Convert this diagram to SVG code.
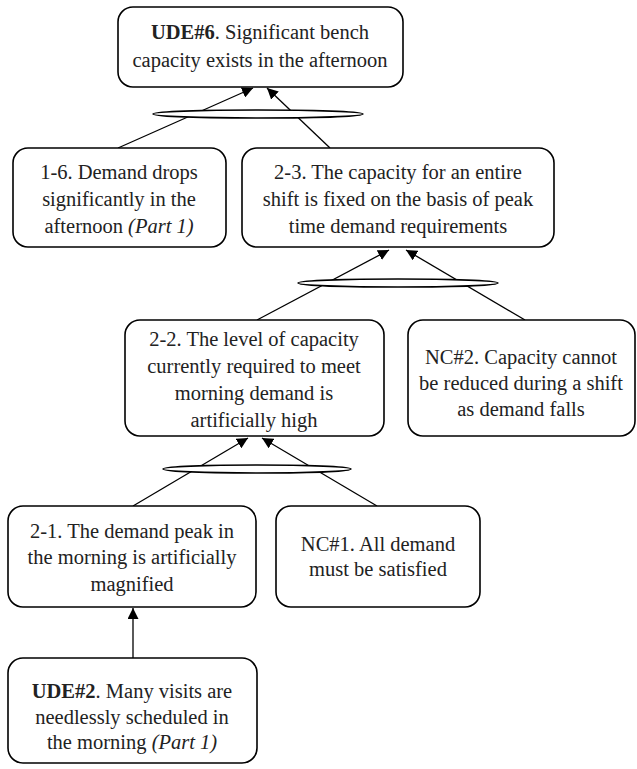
<svg xmlns="http://www.w3.org/2000/svg" width="637" height="769" viewBox="0 0 637 769">
  <defs>
    <style>
      .box { fill: #fff; stroke: #000; stroke-width: 1.6; }
      .lbl { font-family: "Liberation Serif", "DejaVu Serif", serif; font-size: 20.5px; fill: #222; text-anchor: middle; }
      .b { font-weight: bold; }
      .i { font-style: italic; }
      .edge { stroke: #000; stroke-width: 1.3; fill: none; }
      .and { fill: #fff; stroke: #000; stroke-width: 1.6; }
    </style>
    <marker id="tip" markerUnits="userSpaceOnUse" markerWidth="12" markerHeight="11" refX="11" refY="5.5" orient="auto">
      <path d="M0,0 L11,5.5 L0,11 Z" fill="#000"/>
    </marker>
  </defs>

  <!-- connectors -->
  <g id="connectors">
    <line class="edge" x1="118" y1="148" x2="253" y2="88" marker-end="url(#tip)"/>
    <line class="edge" x1="330" y1="148" x2="267" y2="88" marker-end="url(#tip)"/>
    <ellipse class="and" cx="258" cy="114" rx="105" ry="4"/>

    <line class="edge" x1="257" y1="320" x2="389" y2="250" marker-end="url(#tip)"/>
    <line class="edge" x1="525" y1="320" x2="406" y2="250" marker-end="url(#tip)"/>
    <ellipse class="and" cx="398" cy="283" rx="100" ry="4"/>

    <line class="edge" x1="133" y1="506" x2="248" y2="438" marker-end="url(#tip)"/>
    <line class="edge" x1="377" y1="506" x2="262" y2="438" marker-end="url(#tip)"/>
    <ellipse class="and" cx="257" cy="469" rx="94" ry="4"/>

    <line class="edge" x1="133" y1="658" x2="133" y2="608" marker-end="url(#tip)"/>
  </g>

  <g id="ude6">
    <rect class="box" x="118" y="7" width="285" height="80" rx="15"/>
    <text class="lbl" x="260" y="39"><tspan class="b">UDE#6</tspan>. Significant bench</text>
    <text class="lbl" x="260" y="67">capacity exists in the afternoon</text>
  </g>

  <g id="n1-6">
    <rect class="box" x="13" y="148" width="213" height="99" rx="15"/>
    <text class="lbl" x="119" y="179">1-6. Demand drops</text>
    <text class="lbl" x="119" y="206">significantly in the</text>
    <text class="lbl" x="119" y="233">afternoon <tspan class="i">(Part 1)</tspan></text>
  </g>

  <g id="n2-3">
    <rect class="box" x="242" y="148" width="312" height="99" rx="15"/>
    <text class="lbl" x="398" y="179">2-3. The capacity for an entire</text>
    <text class="lbl" x="398" y="206">shift is fixed on the basis of peak</text>
    <text class="lbl" x="398" y="233">time demand requirements</text>
  </g>

  <g id="n2-2">
    <rect class="box" x="125" y="320" width="259" height="116" rx="15"/>
    <text class="lbl" x="254" y="346">2-2. The level of capacity</text>
    <text class="lbl" x="254" y="373">currently required to meet</text>
    <text class="lbl" x="254" y="400">morning demand is</text>
    <text class="lbl" x="254" y="427">artificially high</text>
  </g>

  <g id="nc2">
    <rect class="box" x="408" y="320" width="227" height="116" rx="15"/>
    <text class="lbl" x="521" y="364">NC#2. Capacity cannot</text>
    <text class="lbl" x="521" y="390">be reduced during a shift</text>
    <text class="lbl" x="521" y="416">as demand falls</text>
  </g>

  <g id="n2-1">
    <rect class="box" x="8" y="506" width="248" height="101" rx="15"/>
    <text class="lbl" x="132" y="538">2-1. The demand peak in</text>
    <text class="lbl" x="132" y="564">the morning is artificially</text>
    <text class="lbl" x="132" y="591">magnified</text>
  </g>

  <g id="nc1">
    <rect class="box" x="276" y="506" width="204" height="101" rx="15"/>
    <text class="lbl" x="378" y="551">NC#1. All demand</text>
    <text class="lbl" x="378" y="576">must be satisfied</text>
  </g>

  <g id="ude2">
    <rect class="box" x="8" y="658" width="249" height="105" rx="15"/>
    <text class="lbl" x="132" y="698"><tspan class="b">UDE#2</tspan>. Many visits are</text>
    <text class="lbl" x="132" y="724">needlessly scheduled in</text>
    <text class="lbl" x="132" y="749">the morning <tspan class="i">(Part 1)</tspan></text>
  </g>
</svg>
